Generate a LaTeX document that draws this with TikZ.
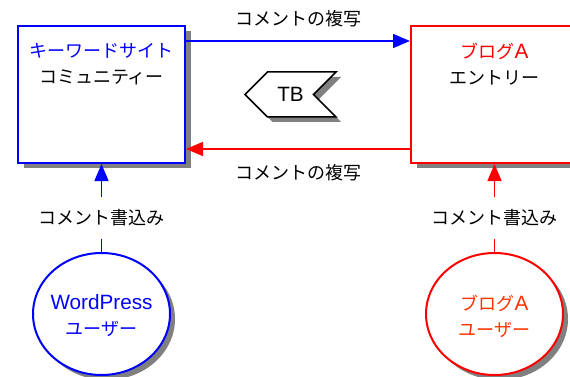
\documentclass[tikz,border=0pt]{standalone}
\usepackage{fontspec}
\setmainfont{Liberation Sans}[Scale=1.15]
\newfontfamily\jp{Noto Sans CJK JP}
\usetikzlibrary{arrows.meta,shapes.geometric,shapes.symbols,shadows,positioning}
\definecolor{cblue}{RGB}{0,0,255}
\definecolor{cred}{RGB}{255,0,0}
\definecolor{corange}{RGB}{255,51,0}
\definecolor{shadowgray}{RGB}{128,128,128}

\tikzset{
  sitebox/.style={draw, line width=2pt, fill=white, minimum width=167pt, minimum height=137pt,
    drop shadow={shadow xshift=6pt, shadow yshift=-5pt, fill=shadowgray, opacity=1}},
  useroval/.style={ellipse, draw, line width=2pt, fill=white, minimum width=137pt, minimum height=122pt,
    drop shadow={shadow xshift=5pt, shadow yshift=-5pt, fill=shadowgray, opacity=1}},
  flow/.style={line width=1.5pt, -{Triangle[length=17pt,width=14pt]}},
  stub/.style={line width=1.5pt},
  cmt/.style={inner xsep=2pt, inner ysep=12pt},
}

\begin{document}
\begin{tikzpicture}[x=1pt,y=-1pt,font=\fontsize{18}{26}\selectfont]
    \useasboundingbox (0,0) rectangle (570,377);
    % sites
    \node[sitebox,draw=cblue] (kws) at (101.5,94.5) {};
    \node[sitebox,draw=cred] (blog) at (494.5,94.5) {};
    \node[align=center] (kwst) at ([yshift=-39pt]kws.north) {\textcolor{cblue}{\jp キーワードサイト}\\{\jp コミュニティー}};
    \node[align=center] (blogt) at ([yshift=-39pt]blog.north) {\textcolor{cred}{{\jp ブログ}A}\\{\jp エントリー}};
    % copies between the sites
    \draw[flow,cblue] ([yshift=-16pt]kws.north east) -- ([yshift=-16pt]blog.north west)
        node[midway,yshift=22pt,text=black] {\jp コメントの複写};
    \draw[flow,cred] ([yshift=15pt]blog.south west) -- ([yshift=15pt]kws.south east)
        node[midway,yshift=-24pt,text=black] {\jp コメントの複写};
    \node[signal, signal to=west, signal from=east, draw, line width=1.5pt, fill=white,
        minimum width=91pt, minimum height=45pt, inner xsep=8pt,
        drop shadow={shadow xshift=5pt, shadow yshift=-5pt, fill=shadowgray, opacity=1}] (tb) at (290.5,94.5) {TB};
    % users
    \node[useroval,draw=cblue] (wpu) at (101.5,314) {};
    \node[useroval,draw=cred] (blu) at (494.5,314) {};
    \node[align=center,text=cblue] (wput) at ([yshift=-2pt]wpu.center) {WordPress\\{\jp ユーザー}};
    \node[align=center,text=corange] (blut) at ([yshift=-2pt]blu.center) {{\jp ブログ}A\\{\jp ユーザー}};
    \node[cmt] (kwsc) at (101.5,218) {\jp コメント書込み};
    \node[cmt] (blogc) at (494.5,218) {\jp コメント書込み};
    \draw[flow,cblue] (kwsc.north) -- (kws.south);
    \draw[stub,cblue] (kwsc.south) -- (wpu.north);
    \draw[flow,cred] (blogc.north) -- (blog.south);
    \draw[stub,cred] (blogc.south) -- (blu.north);
\end{tikzpicture}
\end{document}
